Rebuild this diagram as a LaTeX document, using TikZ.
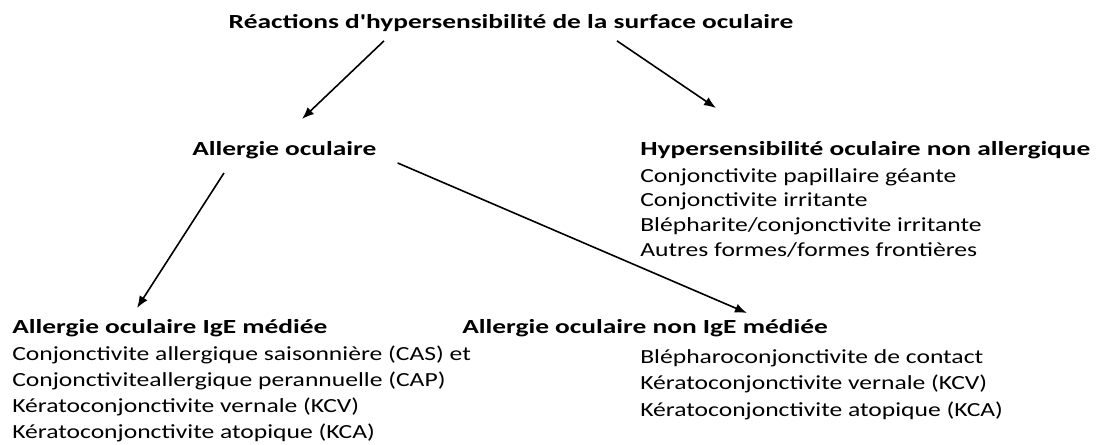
\documentclass[tikz,border=0pt]{standalone}
\usepackage{fontspec}
\setmainfont[FakeStretch=1.28]{Carlito}
\newfontfamily\headfont[FakeStretch=1.37]{Carlito}
\usepackage{tikz}
\usetikzlibrary{arrows.meta,calc}
\tikzstyle{head} = [font=\headfont\bfseries\fontsize{15}{18}\selectfont, anchor=west, inner sep=0pt]
\tikzstyle{items} = [font=\fontsize{15}{20}\selectfont, anchor=north west, align=left, inner sep=0pt]
\tikzstyle{line} = [draw, -{Latex[length=9pt,width=7pt]}, line width=1.2pt]

\begin{document}
\begin{tikzpicture}[x=0.75pt, y=-0.75pt]
\useasboundingbox (0,0) rectangle (1096,445);
\node [head, anchor=center] (title) at (511,23) {Réactions d'hypersensibilité de la surface oculaire};
\node [head] (allerg) at (192,150) {Allergie oculaire};
\node [head] (hyper) at (640,150) {Hypersensibilité oculaire non allergique};
\node [items, font=\fontsize{15}{18.6}\selectfont] (hyper-list) at (640,168) {Conjonctivite papillaire géante\\Conjonctivite irritante\\Blépharite/conjonctivite irritante\\Autres formes/formes frontières};
\node [head] (ige) at (12,328) {Allergie oculaire IgE médiée};
\node [items, font=\fontsize{15}{19.5}\selectfont] (ige-list) at (12,346) {Conjonctivite allergique saisonnière (CAS) et\\Conjonctiviteallergique perannuelle (CAP)\\Kératoconjonctivite vernale (KCV)\\Kératoconjonctivite atopique (KCA)};
\node [head] (non-ige) at (462,328) {Allergie oculaire non IgE médiée};
\node [items] (non-ige-list) at (640,349) {Blépharoconjonctivite de contact\\Kératoconjonctivite vernale (KCV)\\Kératoconjonctivite atopique (KCA)};
\path [line] ($(title.south)+(-127,9)$) -- ($(allerg.north west)+(110,-22)$);
\path [line] ($(title.south)+(106,9)$) -- ($(hyper.north west)+(76,-33)$);
\path [line] ($(allerg.south west)+(32,14)$) -- ($(ige.north west)+(125,-11)$);
\path [line] ($(allerg.south east)+(21,4)$) -- ($(non-ige.north west)+(285,-6)$);
\end{tikzpicture}
\end{document}
